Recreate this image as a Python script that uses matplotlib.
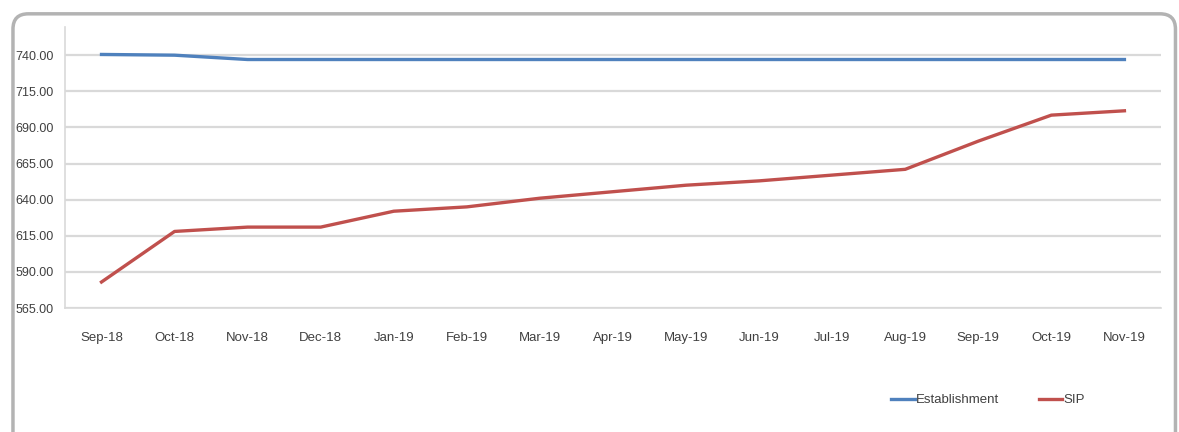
import matplotlib.pyplot as plt
from matplotlib.patches import FancyBboxPatch

plt.rcParams['font.family'] = ['Liberation Sans', 'DejaVu Sans']

meses = ['Sep-18', 'Oct-18', 'Nov-18', 'Dec-18', 'Jan-19', 'Feb-19', 'Mar-19', 'Apr-19',
         'May-19', 'Jun-19', 'Jul-19', 'Aug-19', 'Sep-19', 'Oct-19', 'Nov-19']
establishment = [740.5, 740, 737, 737, 737, 737, 737, 737, 737, 737, 737, 737, 737, 737, 737]
sip = [583, 618, 621, 621, 632, 635, 641, 645.5, 650, 653, 657, 661, 680.5, 698.5, 701.5]
yticks = [565, 590, 615, 640, 665, 690, 715, 740]

fig = plt.figure(figsize=(11.79, 4.32), dpi=100)

# marco redondeado del grafico
marco = FancyBboxPatch((0.011, -0.05), 0.986, 1.018, boxstyle='round,pad=0,rounding_size=0.013',
                       transform=fig.transFigure, facecolor='none', edgecolor='#b3b3b3',
                       linewidth=2.5, mutation_aspect=1179 / 432, zorder=-1)
fig.patches.append(marco)

ax = fig.add_axes([0.0551, 0.287, 0.9296, 0.6505])
x = range(len(meses))
ax.plot(x, establishment, color='#4F81BD', linewidth=2.4, label='Establishment')
ax.plot(x, sip, color='#C0504D', linewidth=2.4, label='SIP')

ax.set_xlim(-0.5, len(meses) - 0.5)
ax.set_ylim(565, 759.5)
ax.set_yticks(yticks)
ax.set_yticklabels([f'{v:.2f}' for v in yticks], fontsize=9, color='#404040')
ax.set_xticks(list(x))
ax.set_xticklabels(meses, fontsize=9.5, color='#404040')
ax.tick_params(axis='both', length=0)
ax.tick_params(axis='x', pad=17)
ax.tick_params(axis='y', pad=8)
ax.grid(axis='y', color='#d9d9d9', linewidth=1.6)
ax.set_axisbelow(True)
for s in ['top', 'right']:
    ax.spines[s].set_visible(False)
ax.spines['left'].set_color('#d9d9d9')
ax.spines['bottom'].set_color('#d9d9d9')
ax.spines['left'].set_linewidth(1.2)
ax.spines['bottom'].set_linewidth(1.2)

fig.legend(loc='center', bbox_to_anchor=(0.838, 0.074), ncol=2, frameon=False, fontsize=9.5,
           handlelength=1.8, handletextpad=0.1, columnspacing=3.0, labelcolor='#404040')

fig.savefig('out.png', dpi=100)
